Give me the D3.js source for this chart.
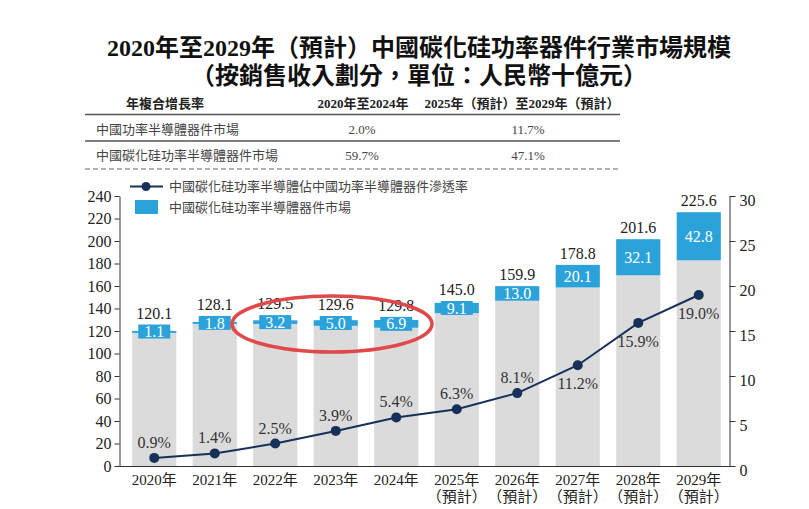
<!DOCTYPE html>
<html>
<head>
<meta charset="utf-8">
<script src="https://cdn.jsdelivr.net/npm/d3@7"></script>
<style>
  body { margin: 0; background: #fff; }
  svg { display: block; }
  text { font-family: "Liberation Serif", "Noto Sans CJK TC", serif; }
</style>
</head>
<body>
<div id="chart"></div>
<script>
// data
const years = ["2020年", "2021年", "2022年", "2023年", "2024年", "2025年", "2026年", "2027年", "2028年", "2029年"];
const isForecast = [false, false, false, false, false, true, true, true, true, true];
const totalMarket = [120.1, 128.1, 129.5, 129.6, 129.8, 145.0, 159.9, 178.8, 201.6, 225.6];
const sicMarket = [1.1, 1.8, 3.2, 5.0, 6.9, 9.1, 13.0, 20.1, 32.1, 42.8];
const penetration = [0.9, 1.4, 2.5, 3.9, 5.4, 6.3, 8.1, 11.2, 15.9, 19.0];
const leftTicks = [0, 20, 40, 60, 80, 100, 120, 140, 160, 180, 200, 220, 240];
const rightTicks = [0, 5, 10, 15, 20, 25, 30];

const titleLines = ["2020年至2029年（預計）中國碳化硅功率器件行業市場規模", "（按銷售收入劃分，單位：人民幣十億元）"];
const cagrHeader = ["年複合增長率", "2020年至2024年", "2025年（預計）至2029年（預計）"];
const cagrMarkets = ["中國功率半導體器件市場", "中國碳化硅功率半導體器件市場"];
const cagrHist = ["2.0%", "59.7%"];
const cagrFcst = ["11.7%", "47.1%"];
const legendLabels = ["中國碳化硅功率半導體佔中國功率半導體器件滲透率", "中國碳化硅功率半導體器件市場"];

const W = 809, H = 509;
const blue = "#2ba3da", grey = "#dcdbdb", navy = "#17305a", ink = "#222";

const svg = d3.select("#chart").append("svg")
    .attr("width", W)
    .attr("height", H);

// title
svg.selectAll("text.title")
    .data(titleLines)
    .enter().append("text")
    .attr("class", "title")
    .attr("x", 419)
    .attr("y", (d, i) => 56 + i * 28)
    .attr("text-anchor", "middle")
    .style("font-size", "24px")
    .style("font-weight", "bold")
    .style("fill", "#111")
    .text(d => d);

// CAGR table
const tbl = svg.append("g").style("font-size", "13px");
const colX = [165, 363, 522];
tbl.selectAll("text.head")
    .data(cagrHeader)
    .enter().append("text")
    .attr("x", (d, i) => colX[i])
    .attr("y", 108)
    .attr("text-anchor", "middle")
    .style("font-weight", "bold")
    .style("fill", "#222")
    .text(d => d);
[114.5, 141].forEach(y => {
  tbl.append("line")
      .attr("x1", 85).attr("x2", 620)
      .attr("y1", y).attr("y2", y)
      .attr("stroke", "#555").attr("stroke-width", 1.5);
});
tbl.append("line")
    .attr("x1", 85).attr("x2", 620)
    .attr("y1", 169).attr("y2", 169)
    .attr("stroke", "#666").attr("stroke-width", 1)
    .attr("stroke-dasharray", "5,3");
cagrMarkets.forEach((m, i) => {
  const y = 134 + i * 26;
  tbl.append("text").attr("x", 96).attr("y", y).style("fill", "#444").text(m);
  tbl.append("text").attr("x", 362).attr("y", y).attr("text-anchor", "middle")
      .style("fill", "#444").text(cagrHist[i]);
  tbl.append("text").attr("x", 528).attr("y", y).attr("text-anchor", "middle")
      .style("fill", "#444").text(cagrFcst[i]);
});

// scales
const x = d3.scaleBand().domain(years).range([124, 729]).paddingInner(0.27).paddingOuter(0.135);
const yL = d3.scaleLinear().domain([0, 240]).range([466, 196]);
const yR = d3.scaleLinear().domain([0, 30]).range([466, 196]);

// bars
const bars = svg.append("g");
const rows = years.map((yr, i) => ({yr, total: totalMarket[i], sic: sicMarket[i], pen: penetration[i]}));
bars.selectAll("rect.base")
    .data(rows)
    .enter().append("rect")
    .attr("x", d => x(d.yr))
    .attr("width", x.bandwidth())
    .attr("y", d => yL(d.total - d.sic))
    .attr("height", d => yL(0) - yL(d.total - d.sic))
    .attr("fill", grey);
bars.selectAll("rect.sic")
    .data(rows)
    .enter().append("rect")
    .attr("x", d => x(d.yr))
    .attr("width", x.bandwidth())
    .attr("y", d => yL(d.total))
    .attr("height", d => Math.max(2, yL(d.total - d.sic) - yL(d.total)))
    .attr("fill", blue);

// label box for thin segments
const boxH = 14, boxW = 32;
const segH = d => yL(d.total - d.sic) - yL(d.total);
const segMid = d => (yL(d.total) + yL(d.total - d.sic)) / 2;
bars.selectAll("rect.box")
    .data(rows.filter(d => segH(d) < boxH))
    .enter().append("rect")
    .attr("x", d => x(d.yr) + x.bandwidth() / 2 - boxW / 2)
    .attr("width", boxW)
    .attr("y", d => segMid(d) - boxH / 2)
    .attr("height", boxH)
    .attr("fill", blue);
bars.selectAll("text.sic")
    .data(rows)
    .enter().append("text")
    .attr("x", d => x(d.yr) + x.bandwidth() / 2)
    .attr("y", d => segMid(d))
    .attr("dy", "0.35em")
    .attr("text-anchor", "middle")
    .style("font-size", "16px")
    .style("fill", "#fff")
    .text(d => d.sic.toFixed(1));
bars.selectAll("text.total")
    .data(rows)
    .enter().append("text")
    .attr("x", d => x(d.yr) + x.bandwidth() / 2)
    .attr("y", d => Math.min(yL(d.total), segMid(d) - boxH / 2) - 6)
    .attr("text-anchor", "middle")
    .style("font-size", "16px")
    .style("fill", ink)
    .text(d => d.total.toFixed(1));

// axes
const axL = svg.append("g")
    .attr("transform", "translate(119.5,0)")
    .call(d3.axisLeft(yL).tickValues(leftTicks).tickSize(5).tickPadding(3).tickSizeOuter(0));
const axR = svg.append("g")
    .attr("transform", "translate(729.5,0)")
    .call(d3.axisRight(yR).tickValues(rightTicks).tickSize(6).tickPadding(4).tickSizeOuter(0));
axR.selectAll(".tick text").attr("dy", "0.62em");
[axL, axR].forEach(ax => {
  ax.selectAll("text").style("font-size", "16px").style("fill", ink)
      .style("font-family", "'Liberation Serif', serif");
  ax.selectAll("path, line").attr("stroke", "#333");
});
svg.append("line")
    .attr("x1", 119).attr("x2", 730)
    .attr("y1", 466.5).attr("y2", 466.5)
    .attr("stroke", "#333");

const axB = svg.append("g")
    .attr("transform", "translate(0,466)")
    .call(d3.axisBottom(x).tickSize(0).tickPadding(0));
axB.select(".domain").remove();
axB.selectAll(".tick text").remove();
axB.selectAll(".tick").each(function(d, i) {
  const t = d3.select(this).append("text")
      .attr("text-anchor", "middle")
      .style("font-size", "15px")
      .style("fill", ink);
  t.append("tspan").attr("x", 0).attr("y", 19).text(d);
  if (isForecast[i]) t.append("tspan").attr("x", 0).attr("y", 36).text("（預計）");
});

// penetration line
const cx = d => x(d.yr) + x.bandwidth() / 2;
svg.append("path")
    .datum(rows)
    .attr("fill", "none")
    .attr("stroke", navy)
    .attr("stroke-width", 2)
    .attr("d", d3.line().x(cx).y(d => yR(d.pen)));
svg.selectAll("circle.pt")
    .data(rows)
    .enter().append("circle")
    .attr("cx", cx)
    .attr("cy", d => yR(d.pen))
    .attr("r", 5)
    .attr("fill", navy);
svg.selectAll("text.pen")
    .data(rows)
    .enter().append("text")
    .attr("x", cx)
    .attr("y", (d, i) => i < 7 ? yR(d.pen) - 10 : yR(d.pen) + 24)
    .attr("text-anchor", "middle")
    .style("font-size", "16px")
    .style("fill", "#333")
    .text(d => d.pen.toFixed(1) + "%");

// legend
const lg = svg.append("g").style("font-size", "13px");
lg.append("line").attr("x1", 130).attr("x2", 163).attr("y1", 186.5).attr("y2", 186.5)
    .attr("stroke", navy).attr("stroke-width", 2);
lg.append("circle").attr("cx", 146).attr("cy", 186.5).attr("r", 4.5).attr("fill", navy);
lg.append("rect").attr("x", 135).attr("y", 200).attr("width", 23).attr("height", 14).attr("fill", blue);
lg.selectAll("text")
    .data(legendLabels)
    .enter().append("text")
    .attr("x", 169)
    .attr("y", (d, i) => 186.5 + i * 21)
    .attr("dy", "0.35em")
    .style("fill", "#444")
    .text(d => d);

// red highlight ellipse
svg.append("ellipse")
    .attr("cx", 332).attr("cy", 324)
    .attr("rx", 100).attr("ry", 28)
    .attr("fill", "none")
    .attr("stroke", "#e0484a")
    .attr("stroke-width", 3.5);
</script>
</body>
</html>
